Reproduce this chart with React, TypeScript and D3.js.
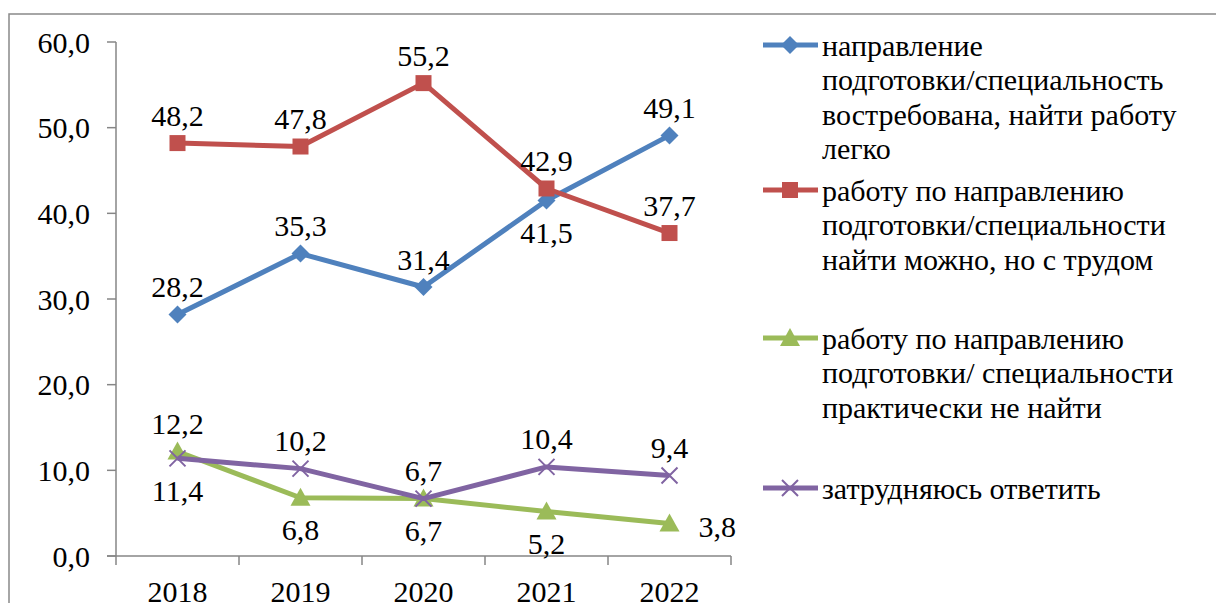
import React, { useRef, useLayoutEffect } from "react";
import * as d3 from "d3";

const years = ["2018", "2019", "2020", "2021", "2022"];
const yTicks = [0, 10, 20, 30, 40, 50, 60];
const seriesNames = [
  ["направление", "подготовки/специальность", "востребована, найти работу", "легко"],
  ["работу по направлению", "подготовки/специальности", "найти можно, но с трудом"],
  ["работу по направлению", "подготовки/ специальности", "практически не найти"],
  ["затрудняюсь ответить"],
];
const blueVals = [28.2, 35.3, 31.4, 41.5, 49.1];
const redVals = [48.2, 47.8, 55.2, 42.9, 37.7];
const greenVals = [12.2, 6.8, 6.7, 5.2, 3.8];
const purpleVals = [11.4, 10.2, 6.7, 10.4, 9.4];
// label placement per point: a = above, b = below, r = right
const blueLabelPos = ["a", "a", "a", "b", "a"];
const redLabelPos = ["a", "a", "a", "a", "a"];
const greenLabelPos = ["a", "b", "b", "b", "r"];
const purpleLabelPos = ["b", "a", "a", "a", "a"];

const colors = ["#4F81BD", "#C0504D", "#9BBB59", "#8064A2"];
const markers = ["diamond", "square", "triangle", "x"];

const FS = 30;
const FONT = "Liberation Serif";

function T(props: any) {
  const { children, ...rest } = props;
  return (
    <text {...rest} fontFamily={FONT} fontSize={FS} fill="#000">
      {children}
    </text>
  );
}

function Marker({ type, x, y, color }: { type: string; x: number; y: number; color: string }) {
  if (type === "diamond") {
    const s = 9;
    return <path d={`M${x},${y - s}L${x + s},${y}L${x},${y + s}L${x - s},${y}Z`} fill={color} />;
  }
  if (type === "square") {
    const s = 8;
    return <rect x={x - s} y={y - s} width={2 * s} height={2 * s} fill={color} />;
  }
  if (type === "triangle") {
    const s = 10;
    return <path d={`M${x},${y - s}L${x + s},${y + s * 0.8}L${x - s},${y + s * 0.8}Z`} fill={color} />;
  }
  const s = 8;
  return (
    <path
      d={`M${x - s},${y - s}L${x + s},${y + s}M${x - s},${y + s}L${x + s},${y - s}`}
      stroke={color}
      strokeWidth={2}
    />
  );
}

export default function App() {
  const ref = useRef<SVGSVGElement>(null);
  useLayoutEffect(() => {
    if (!ref.current) return;
    d3.select(ref.current)
      .selectAll<SVGTextElement, unknown>("text")
      .each(function () {
        this.style.setProperty("font-family", FONT, "important");
        this.style.setProperty("font-size", FS + "px", "important");
      });
  });

  const left = 116;
  const bandW = 123;
  const x = d3
    .scaleBand<string>()
    .domain(years)
    .range([left, left + bandW * years.length]);
  const y = d3.scaleLinear().domain([0, 60]).range([556, 42]);
  const cx = (yr: string) => (x(yr) as number) + x.bandwidth() / 2;

  const series = [
    { vals: blueVals, pos: blueLabelPos },
    { vals: redVals, pos: redLabelPos },
    { vals: greenVals, pos: greenLabelPos },
    { vals: purpleVals, pos: purpleLabelPos },
  ];

  const line = d3
    .line<number>()
    .x((_, i) => cx(years[i]))
    .y((d) => y(d));

  const fmt = (v: number) => v.toFixed(1).replace(".", ",");
  const axisColor = "#868686";

  const legendTop = [45, 190, 338, 488];
  const lineH = 34.5;

  return (
    <svg ref={ref} width={1216} height={603} style={{ position: "absolute", left: 0, top: 0, background: "#fff" }}>
      <rect x={9} y={14} width={1230} height={620} fill="#fff" stroke="#898989" strokeWidth={1.5} />
      <line x1={left} x2={left} y1={y(60)} y2={y(0)} stroke={axisColor} strokeWidth={1.5} />
      {yTicks.map((t) => (
        <g key={t}>
          <line x1={left - 9} x2={left} y1={y(t)} y2={y(t)} stroke={axisColor} strokeWidth={1.5} />
          <T x={90} y={y(t)} dy="0.35em" textAnchor="end">
            {fmt(t)}
          </T>
        </g>
      ))}
      <line x1={left - 9} x2={left + bandW * years.length} y1={y(0)} y2={y(0)} stroke={axisColor} strokeWidth={1.5} />
      {years.map((yr) => (
        <line
          key={"t" + yr}
          x1={x(yr) as number}
          x2={x(yr) as number}
          y1={y(0)}
          y2={y(0) + 9}
          stroke={axisColor}
          strokeWidth={1.5}
        />
      ))}
      <line
        x1={left + bandW * years.length}
        x2={left + bandW * years.length}
        y1={y(0)}
        y2={y(0) + 9}
        stroke={axisColor}
        strokeWidth={1.5}
      />
      {years.map((yr) => (
        <T key={yr} x={cx(yr)} y={602} textAnchor="middle">
          {yr}
        </T>
      ))}
      {series.map((s, si) => (
        <g key={si}>
          <path d={line(s.vals) || ""} fill="none" stroke={colors[si]} strokeWidth={5} strokeLinejoin="round" />
          {s.vals.map((v, i) => (
            <Marker key={i} type={markers[si]} x={cx(years[i])} y={y(v)} color={colors[si]} />
          ))}
        </g>
      ))}
      {series.map((s, si) => (
        <g key={"l" + si}>
          {s.vals.map((v, i) => {
            const px = cx(years[i]);
            const py = y(v);
            const p = s.pos[i];
            let tx = px;
            let ty = py - 28;
            let anchor = "middle";
            if (p === "b") ty = py + 32;
            if (p === "r") {
              tx = px + 29;
              ty = py + 3;
              anchor = "start";
            }
            return (
              <T key={i} x={tx} y={ty} dy="0.35em" textAnchor={anchor}>
                {fmt(v)}
              </T>
            );
          })}
        </g>
      ))}
      {seriesNames.map((lines, si) => {
        const ly = legendTop[si];
        return (
          <g key={"lg" + si}>
            <line x1={763} x2={818} y1={ly} y2={ly} stroke={colors[si]} strokeWidth={5} />
            <Marker type={markers[si]} x={790} y={ly} color={colors[si]} />
            {lines.map((t, li) => (
              <T key={li} x={822} y={ly + li * lineH} dy="0.35em">
                {t}
              </T>
            ))}
          </g>
        );
      })}
    </svg>
  );
}
